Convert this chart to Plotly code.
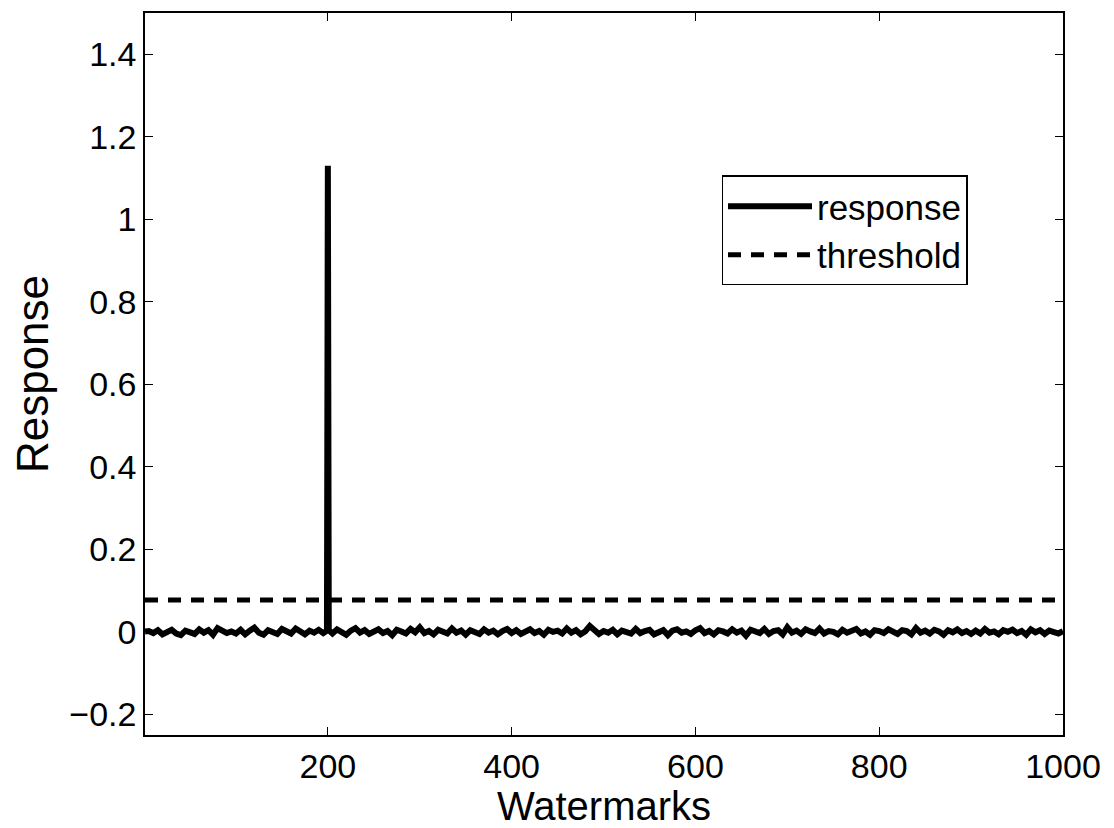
import plotly.graph_objects as go

# ---- data ----
sample_ids = [1] + list(range(5, 1001, 5))
noise_values = [
    0.001,
    0.002, -0.003, 0.004, -0.006, 0.001, 0.005, -0.004, -0.008, 0.003, 0.000,
    -0.005, 0.006, -0.002, 0.004, -0.007, 0.009, 0.003, -0.003, 0.001, -0.004,
    0.005, -0.006, 0.003, 0.010, -0.002, -0.007, 0.004, 0.001, -0.005, 0.007,
    0.002, -0.004, 0.008, 0.000, -0.006, 0.003, -0.002, 0.005, -0.003, 0.002,
    -0.004, 0.006, 0.001, -0.007, 0.003, 0.009, -0.002, 0.004, -0.005, 0.000,
    0.006, -0.003, 0.002, -0.008, 0.005, 0.001, -0.004, 0.007, -0.001, 0.011,
    -0.003, 0.002, -0.006, 0.005, 0.000, -0.004, 0.008, -0.002, 0.003, -0.007,
    0.004, 0.001, -0.005, 0.006, -0.002, 0.003, -0.006, 0.002, 0.007, -0.003,
    0.004, -0.005, 0.001, 0.006, -0.003, 0.002, -0.007, 0.005, 0.000, 0.003,
    -0.004, 0.008, -0.002, 0.004, -0.006, 0.001, 0.014, 0.003, -0.005, 0.002,
    -0.002, 0.005, -0.006, 0.003, 0.001, -0.004, 0.007, -0.003, 0.002, 0.005,
    -0.006, 0.000, 0.004, -0.008, 0.003, 0.006, -0.002, 0.001, -0.005, 0.004,
    0.009, -0.003, 0.002, -0.006, 0.004, 0.001, -0.004, 0.006, -0.002, 0.003,
    -0.009, 0.005, 0.000, -0.003, 0.007, -0.005, 0.002, 0.004, -0.006, 0.011,
    -0.002, 0.003, -0.005, 0.006, 0.001, -0.003, 0.008, -0.004, 0.002, 0.000,
    -0.006, 0.005, -0.002, 0.003, 0.007, -0.004, 0.001, -0.007, 0.004, 0.002,
    -0.003, 0.006, 0.000, -0.005, 0.004, 0.002, -0.006, 0.009, -0.002, 0.003,
    -0.004, 0.005, 0.001, -0.007, 0.004, -0.001, 0.006, -0.003, 0.002, -0.005,
    0.003, -0.004, 0.007, -0.002, 0.001, -0.006, 0.004, 0.000, 0.005, -0.003,
    0.002, -0.007, 0.006, -0.001, 0.004, -0.005, 0.003, 0.001, -0.004, 0.002,
]
spike_ids = [199, 200, 201]
spike_values = [0.003, 1.13, 0.004]
threshold_value = 0.077
x_range = [1, 1000]
y_range = [-0.25, 1.5]
x_ticks = [200, 400, 600, 800, 1000]
y_ticks = [-0.2, 0, 0.2, 0.4, 0.6, 0.8, 1.0, 1.2, 1.4]
y_tick_labels = ["\u22120.2", "0", "0.2", "0.4", "0.6", "0.8", "1", "1.2", "1.4"]

# merge noise and spike
resp = dict(zip(sample_ids, noise_values))
resp.update(dict(zip(spike_ids, spike_values)))
xs = sorted(resp)
ys = [resp[k] for k in xs]

FONT = "Liberation Sans, Arial, Helvetica, sans-serif"

fig = go.Figure()
fig.add_trace(go.Scatter(
    x=xs, y=ys, mode="lines", name="response",
    line=dict(color="black", width=6),
))
fig.add_trace(go.Scatter(
    x=x_range, y=[threshold_value, threshold_value], mode="lines", name="threshold",
    line=dict(color="black", width=5, dash="13px,10px"),
))

axis_common = dict(
    showline=True, linecolor="black", linewidth=1.5, mirror="ticks",
    ticks="inside", ticklen=8, tickcolor="black", tickwidth=1,
    showgrid=False, zeroline=False,
    tickfont=dict(family=FONT, size=34, color="black"),
)

# page body has an 8px default margin, so the figure is sized 8px smaller
fig.update_layout(
    width=1106, height=820,
    margin=dict(l=137, r=51, t=3, b=93),
    paper_bgcolor="white", plot_bgcolor="white",
    font=dict(family=FONT, color="black"),
    xaxis=dict(range=x_range, tickvals=x_ticks,
               title=dict(text="Watermarks", font=dict(family=FONT, size=40, color="black"), standoff=2),
               **axis_common),
    yaxis=dict(range=y_range, tickvals=y_ticks, ticktext=y_tick_labels,
               title=dict(text="Response", font=dict(family=FONT, size=44, color="black"), standoff=12),
               **axis_common),
    legend=dict(
        x=0.628, y=0.775, xanchor="left", yanchor="top",
        bgcolor="white", bordercolor="black", borderwidth=1.5,
        font=dict(family=FONT, size=35, color="black"),
        itemwidth=84,
    ),
    showlegend=True,
)

fig.write_html("out.html")
